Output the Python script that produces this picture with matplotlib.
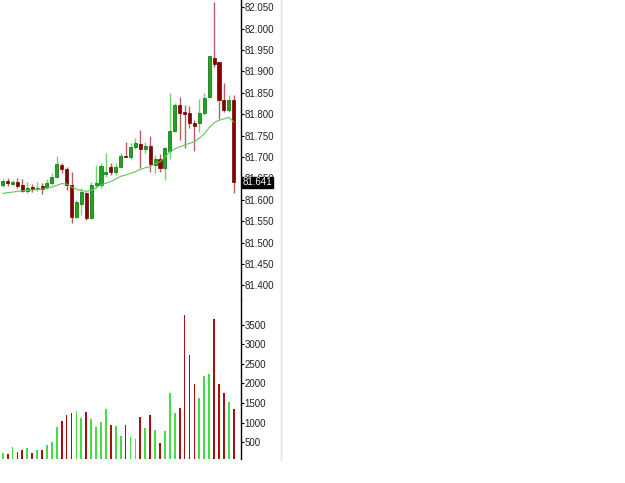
import matplotlib
matplotlib.use("Agg")
import matplotlib.pyplot as plt
from matplotlib.lines import Line2D
import matplotlib.transforms as mtransforms
import numpy as np

plt.rcParams['font.family'] = ['Liberation Sans', 'DejaVu Sans']

# ---- data ----
opens = [81.635, 81.644, 81.637, 81.642, 81.635, 81.621, 81.630, 81.626, 81.633, 81.630,
         81.639, 81.654, 81.682, 81.672, 81.635, 81.561, 81.590, 81.616, 81.557, 81.635,
         81.635, 81.660, 81.677, 81.665, 81.677, 81.703, 81.700, 81.724, 81.731, 81.718,
         81.726, 81.682, 81.695, 81.674, 81.715, 81.762, 81.821, 81.805, 81.804, 81.779,
         81.780, 81.802, 81.841, 81.931, 81.921, 81.833, 81.810, 81.833]
highs = [81.649, 81.651, 81.646, 81.651, 81.649, 81.642, 81.636, 81.642, 81.640, 81.648,
         81.662, 81.703, 81.686, 81.676, 81.666, 81.600, 81.628, 81.619, 81.642, 81.682,
         81.686, 81.709, 81.687, 81.686, 81.709, 81.736, 81.732, 81.744, 81.763, 81.736,
         81.749, 81.705, 81.707, 81.724, 81.850, 81.826, 81.841, 81.822, 81.819, 81.787,
         81.835, 81.850, 81.937, 82.063, 81.921, 81.872, 81.845, 81.845]
lows = [81.630, 81.633, 81.635, 81.628, 81.619, 81.616, 81.619, 81.621, 81.614, 81.625,
        81.635, 81.651, 81.662, 81.623, 81.545, 81.557, 81.565, 81.554, 81.555, 81.628,
        81.627, 81.654, 81.658, 81.658, 81.674, 81.699, 81.695, 81.718, 81.674, 81.709,
        81.664, 81.662, 81.664, 81.647, 81.695, 81.759, 81.740, 81.721, 81.767, 81.713,
        81.759, 81.798, 81.837, 81.911, 81.788, 81.806, 81.806, 81.617]
closes = [81.644, 81.640, 81.642, 81.633, 81.621, 81.628, 81.626, 81.628, 81.626, 81.639,
          81.654, 81.684, 81.672, 81.635, 81.561, 81.595, 81.619, 81.557, 81.635, 81.640,
          81.678, 81.665, 81.665, 81.677, 81.703, 81.700, 81.724, 81.733, 81.718, 81.726,
          81.684, 81.695, 81.675, 81.721, 81.762, 81.822, 81.804, 81.801, 81.780, 81.773,
          81.802, 81.839, 81.935, 81.918, 81.833, 81.810, 81.833, 81.641]
moving_avg = [81.615, 81.617, 81.618, 81.620, 81.621, 81.622, 81.623, 81.624, 81.625, 81.627,
              81.630, 81.634, 81.638, 81.637, 81.630, 81.625, 81.622, 81.620, 81.622, 81.628,
              81.635, 81.639, 81.643, 81.649, 81.655, 81.658, 81.662, 81.666, 81.671, 81.675,
              81.678, 81.684, 81.689, 81.700, 81.712, 81.719, 81.724, 81.728, 81.732, 81.736,
              81.744, 81.754, 81.769, 81.780, 81.786, 81.789, 81.793, 81.782]
volumes = [235, 209, 380, 260, 304, 347, 219, 304, 304, 431,
           500, 890, 1043, 1196, 1255, 1291, 1128, 1265, 1094, 898,
           1010, 1344, 934, 903, 668, 949, 640, 579, 1140, 872,
           1196, 821, 477, 788, 1750, 1247, 1383, 3755, 2727, 1980,
           1630, 2191, 2235, 3645, 1980, 1758, 1528, 1349]
price_ticks = [81.40, 81.45, 81.50, 81.55, 81.60, 81.65, 81.70, 81.75, 81.80, 81.85,
               81.90, 81.95, 82.00, 82.05]
volume_ticks = [500, 1000, 1500, 2000, 2500, 3000, 3500]
last_price = closes[-1]

# ---- figure layout ----
W, H = 625, 483
fig = plt.figure(figsize=(W / 100, H / 100), dpi=100)
fig.patch.set_facecolor('white')

ax_w = 241 / W
ax_p = fig.add_axes([0, 1 - 300 / H, ax_w, 300 / H])
ax_v = fig.add_axes([0, 1 - 459.3 / H, ax_w, 159.3 / H])

x = np.arange(len(closes))
up = np.array(closes) >= np.array(opens)

body_green = '#1fa61f'
edge_green = '#0a6a0a'
body_red = '#8a0000'
edge_red = '#700000'
wick_green = '#6fd66f'
wick_red = '#b86060'
vol_green = '#44dd44'
vol_red = '#aa1010'

o = np.array(opens); c = np.array(closes); h = np.array(highs); l = np.array(lows)
ax_p.vlines(x[up], l[up], h[up], color=wick_green, lw=1, zorder=1)
ax_p.vlines(x[~up], l[~up], h[~up], color=wick_red, lw=1, zorder=1)
bh = np.maximum(np.abs(c - o), 0.001)
bb = np.minimum(o, c)
ax_p.bar(x[up], bh[up], bottom=bb[up], width=0.62, color=body_green,
         edgecolor=edge_green, linewidth=0.5, zorder=2)
ax_p.bar(x[~up], bh[~up], bottom=bb[~up], width=0.62, color=body_red,
         edgecolor=edge_red, linewidth=0.5, zorder=2)
ax_p.plot(x, moving_avg, color='#5cc85c', lw=0.8, zorder=3)

ax_v.bar(x, volumes, width=0.36,
         color=[vol_green if u else vol_red for u in up], linewidth=0)

xlim = (-0.55, 48.48)
for ax in (ax_p, ax_v):
    ax.set_xlim(*xlim)
    ax.set_facecolor('white')
    for s in ('left', 'top', 'bottom'):
        ax.spines[s].set_visible(False)
    ax.spines['right'].set_color('black')
    ax.spines['right'].set_linewidth(1)
    ax.set_xticks([])
    ax.yaxis.tick_right()
    ax.tick_params(axis='y', direction='out', length=2.5, width=0.8, pad=0,
                   labelsize=7, colors='black', labelcolor='#222222')

ax_p.set_ylim(81.366, 82.067)
ax_p.set_yticks(price_ticks)
ax_p.set_yticklabels([f"{t:.3f}" for t in price_ticks])

ax_v.set_ylim(66, 4130)
ax_v.set_yticks(volume_ticks)
ax_v.set_yticklabels([str(t) for t in volume_ticks])

# current price label
trans = mtransforms.blended_transform_factory(ax_p.transAxes, ax_p.transData)
ax_p.text(1 + 2.0 / 241, last_price, f"{last_price:.3f}", transform=trans,
          ha='left', va='center', fontsize=7, color='white', zorder=10,
          bbox=dict(boxstyle='square,pad=0.06', fc='black', ec='black'),
          clip_on=False)

# right border line of the chart panel
fig.add_artist(Line2D([281 / W, 281 / W], [1, 1 - 460 / H], color='#e0e0e0',
                      lw=1, transform=fig.transFigure))

fig.savefig('out.png', dpi=100, facecolor='white')
